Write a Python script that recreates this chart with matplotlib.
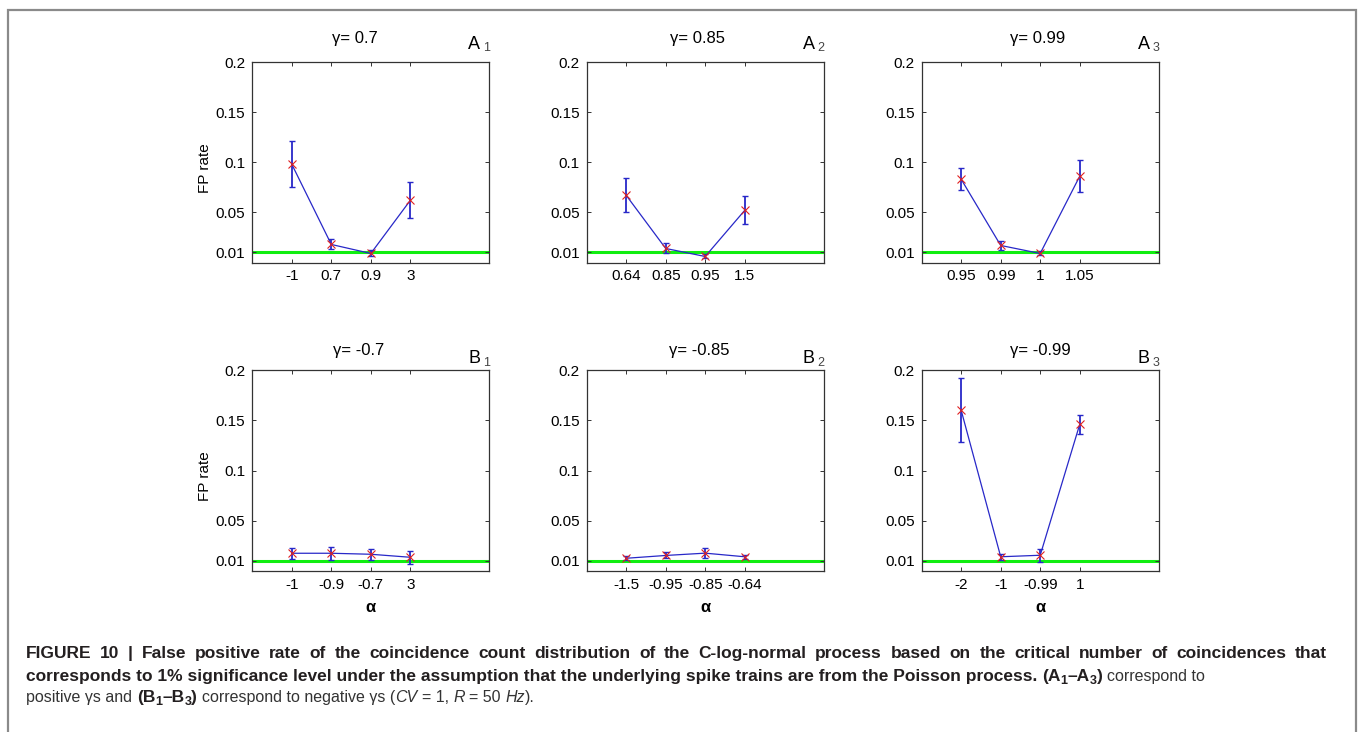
import matplotlib
matplotlib.use("Agg")
import matplotlib.pyplot as plt
from matplotlib.patches import Rectangle

plt.rcParams["font.family"] = ["Liberation Sans", "DejaVu Sans"]

W, H = 1360, 732

# ---- data ----
gammas = ["0.7", "0.85", "0.99", "-0.7", "-0.85", "-0.99"]
panel_names = [("A", "1"), ("A", "2"), ("A", "3"), ("B", "1"), ("B", "2"), ("B", "3")]

alpha_a1 = ["-1", "0.7", "0.9", "3"]
alpha_a2 = ["0.64", "0.85", "0.95", "1.5"]
alpha_a3 = ["0.95", "0.99", "1", "1.05"]
alpha_b1 = ["-1", "-0.9", "-0.7", "3"]
alpha_b2 = ["-1.5", "-0.95", "-0.85", "-0.64"]
alpha_b3 = ["-2", "-1", "-0.99", "1"]

fp_a1 = [0.098, 0.018, 0.009, 0.062]
fp_a2 = [0.067, 0.014, 0.006, 0.052]
fp_a3 = [0.083, 0.017, 0.009, 0.086]
fp_b1 = [0.0175, 0.0175, 0.0165, 0.0135]
fp_b2 = [0.0125, 0.0153, 0.0176, 0.014]
fp_b3 = [0.160, 0.014, 0.0155, 0.146]

err_a1 = [0.023, 0.005, 0.003, 0.018]
err_a2 = [0.017, 0.005, 0.002, 0.014]
err_a3 = [0.011, 0.0045, 0.002, 0.016]
err_b1 = [0.0055, 0.0065, 0.0055, 0.0065]
err_b2 = [0.002, 0.003, 0.0048, 0.002]
err_b3 = [0.032, 0.003, 0.0065, 0.0095]

sig_level = 0.01
yticks = [0.01, 0.05, 0.1, 0.15, 0.2]
ytick_labels = ["0.01", "0.05", "0.1", "0.15", "0.2"]

alphas = [alpha_a1, alpha_a2, alpha_a3, alpha_b1, alpha_b2, alpha_b3]
fps = [fp_a1, fp_a2, fp_a3, fp_b1, fp_b2, fp_b3]
errs = [err_a1, err_a2, err_a3, err_b1, err_b2, err_b3]

# ---- layout ----
fig = plt.figure(figsize=(W / 100, H / 100), dpi=100)

col_left = [252.3, 586.7, 921.7]
row_top = [62.0, 370.3]
ax_w, ax_h = 237.0, 200.5
title_x = [0.432, 0.468, 0.49, 0.448, 0.477, 0.499]

axes = []
for i in range(6):
    r, c = divmod(i, 3)
    left = col_left[c] / W
    bottom = 1 - (row_top[r] + ax_h) / H
    ax = fig.add_axes([left, bottom, ax_w / W, ax_h / H])
    axes.append(ax)

for i, ax in enumerate(axes):
    r, c = divmod(i, 3)
    pos = list(range(1, len(alphas[i]) + 1))

    ax.axhline(sig_level, color="#10ee10", lw=2.2, zorder=1.5)
    ax.errorbar(pos, fps[i], yerr=errs[i], color="#2828c8", lw=0.9,
                elinewidth=1.3, capsize=2.2, capthick=1.0, zorder=2)
    ax.plot(pos, fps[i], "x", color="#e02020", ms=5.5, mew=0.8, zorder=3)

    ax.set_xlim(0, 6)
    ax.set_ylim(0, 0.2)
    ax.set_xticks(pos)
    ax.set_xticklabels(alphas[i])
    ax.set_yticks(yticks)
    ax.set_yticklabels(ytick_labels)
    ax.tick_params(direction="in", length=3, width=0.7, top=True, right=True,
                   labelsize=11, pad=5, color="#333333")
    for sp in ax.spines.values():
        sp.set_color("#333333")
        sp.set_linewidth(0.9)

    # title and panel letter
    ty = 1.118 if r == 0 else 1.10
    ax.text(title_x[i], ty, "\u03b3= " + gammas[i], transform=ax.transAxes,
            ha="center", va="center", fontsize=12)
    ly = 1.067 if r == 0 else 1.035
    letter, sub = panel_names[i]
    ax.text(0.962, ly, letter, transform=ax.transAxes, ha="right",
            va="baseline", fontsize=13)
    ax.text(0.975, ly - 0.014, sub, transform=ax.transAxes, ha="left",
            va="baseline", fontsize=9, color="#444444")

    if c == 0:
        ax.text(-0.198, 0.47, "FP rate", transform=ax.transAxes, rotation=90,
                ha="center", va="center", fontsize=11)
    if r == 1:
        ax.text(0.5, -0.185, "\u03b1", transform=ax.transAxes, ha="center",
                va="center", fontsize=12, fontweight="bold")

# outer frame (bottom edge lies outside the image)
fig.add_artist(Rectangle((7.5 / W, -0.05), (1355.5 - 7.5) / W, 1.05 - 10 / H,
                         transform=fig.transFigure, fill=False,
                         edgecolor="#8a8a8a", lw=1.6))

# ---- caption, drawn piece by piece ----
renderer = fig.canvas.get_renderer()
colors = {"bold": "#231f20", "normal": "#333333"}
sizes = {"bold": 12.5, "normal": 11.5}
cap_left, cap_right = 26, 1327


def put(x, baseline, s, weight="normal", style="normal", sub=False):
    size = sizes[weight] * (0.72 if sub else 1.0)
    dy = 3 if sub else 0
    t = fig.text(x / W, 1 - (baseline + dy) / H, s, fontsize=size,
                 fontweight=weight, fontstyle=style, color=colors[weight],
                 ha="left", va="baseline")
    return t.get_window_extent(renderer).width


def text_width(s, weight="normal"):
    t = fig.text(0, 0, s, fontsize=sizes[weight], fontweight=weight)
    w = t.get_window_extent(renderer).width
    t.remove()
    return w


def space_width(weight):
    return text_width("a a", weight) - text_width("aa", weight)


def draw_line(x0, baseline, pieces):
    x = x0
    for text, weight, style, sub, gap in pieces:
        if gap:
            x += space_width(weight)
        x += put(x, baseline, text, weight, style, sub)


def draw_justified(x0, x1, baseline, text, weight):
    words = text.split(" ")
    widths = [text_width(w, weight) for w in words]
    gap = (x1 - x0 - sum(widths)) / (len(words) - 1)
    x = x0
    for w, wd in zip(words, widths):
        put(x, baseline, w, weight)
        x += wd + gap


B, N = "bold", "normal"
line1 = ("FIGURE 10 | False positive rate of the coincidence count distribution "
         "of the C-log-normal process based on the critical number of "
         "coincidences that")
line2 = [
    ("corresponds to 1% significance level under the assumption that the "
     "underlying spike trains are from the Poisson process.", B, N, False, False),
    ("(A", B, N, False, True), ("1", B, N, True, False),
    ("\u2013A", B, N, False, False), ("3", B, N, True, False),
    (")", B, N, False, False),
    ("correspond to", N, N, False, True),
]
line3 = [
    ("positive \u03b3s and", N, N, False, False),
    ("(B", B, N, False, True), ("1", B, N, True, False),
    ("\u2013B", B, N, False, False), ("3", B, N, True, False),
    (")", B, N, False, False),
    ("correspond to negative \u03b3s (", N, N, False, True),
    ("CV", N, "italic", False, False),
    ("= 1,", N, N, False, True),
    ("R", N, "italic", False, True),
    ("= 50", N, N, False, True),
    ("Hz", N, "italic", False, True),
    (").", N, N, False, False),
]

draw_justified(cap_left, cap_right, 658, line1, B)
draw_line(cap_left, 681, line2)
draw_line(cap_left, 702, line3)

fig.savefig("out.png", dpi=100)
